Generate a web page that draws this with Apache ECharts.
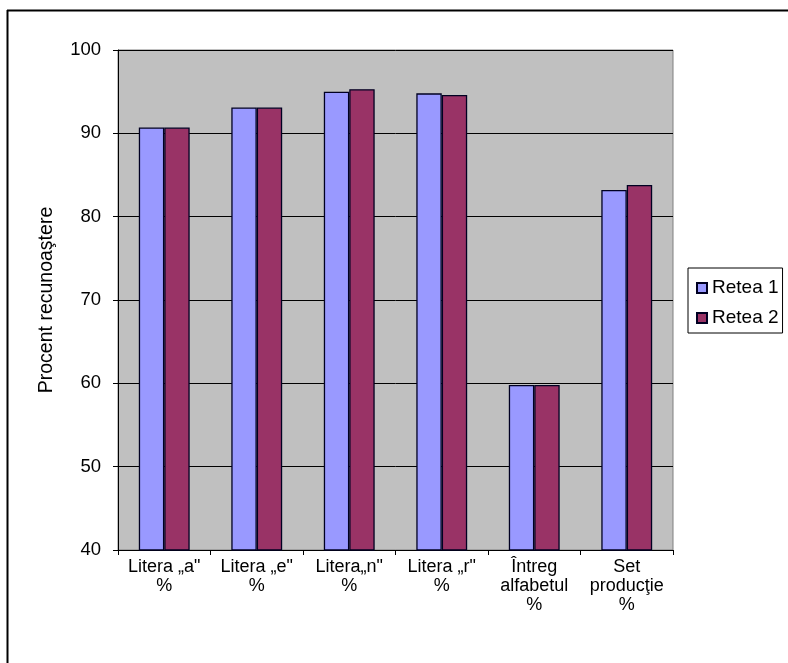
<!DOCTYPE html>
<html>
<head>
<meta charset="utf-8">
<script src="https://cdn.jsdelivr.net/npm/echarts@6/dist/echarts.min.js"></script>
<style>
  html, body { margin: 0; padding: 0; background: #ffffff; }
  #chart { width: 788px; height: 663px; }
</style>
</head>
<body>
<div id="chart"></div>
<script>
// Recognition rates per test set, for the two networks
const categories = [
  'Litera \u201ea"\n%',
  'Litera \u201ee"\n%',
  'Litera\u201en"\n%',
  'Litera \u201er"\n%',
  '\u00centreg\nalfabetul\n%',
  'Set\nproduc\u0163ie\n%'
];
const retea1 = [90.7, 93.1, 95.0, 94.8, 59.8, 83.2];
const retea2 = [90.7, 93.1, 95.3, 94.6, 59.8, 83.8];
const seriesNames = ['Retea 1', 'Retea 2'];
const yTitle = 'Procent recunoa\u015ftere';

const FONT = 'Liberation Sans, Arial, sans-serif';
const chart = echarts.init(document.getElementById('chart'), null, { renderer: 'canvas' });

chart.setOption({
  backgroundColor: '#ffffff',
  animation: false,
  graphic: [
    { type: 'line', shape: { x1: 7, y1: 10.5, x2: 788, y2: 10.5 }, style: { stroke: '#000', lineWidth: 2 } },
    { type: 'line', shape: { x1: 7.5, y1: 10, x2: 7.5, y2: 663 }, style: { stroke: '#000', lineWidth: 2 } }
  ],
  grid: {
    left: 118, right: 115, top: 50, bottom: 113,
    show: true, backgroundColor: '#c0c0c0', borderColor: '#808080', borderWidth: 1
  },
  legend: {
    orient: 'vertical',
    left: 688, top: 268,
    data: seriesNames,
    itemWidth: 10, itemHeight: 10, itemGap: 10,
    padding: [10, 4, 5, 8],
    borderColor: '#000', borderWidth: 1,
    backgroundColor: '#ffffff',
    icon: 'rect',
    textStyle: { fontFamily: FONT, fontSize: 19, color: '#000', lineHeight: 20, padding: [0, 0, 0, 0] }
  },
  xAxis: {
    type: 'category',
    data: categories,
    axisLine: { lineStyle: { color: '#000', width: 1 } },
    axisTick: { show: true, length: 5, lineStyle: { color: '#000' } },
    axisLabel: { fontFamily: FONT, fontSize: 18, color: '#000', lineHeight: 19, margin: 8, interval: 0 },
    splitLine: { show: false }
  },
  yAxis: {
    type: 'value',
    min: 40, max: 100, interval: 10,
    name: yTitle,
    nameLocation: 'middle',
    nameGap: 61,
    nameTextStyle: { fontFamily: FONT, fontSize: 19.5, color: '#000' },
    axisLine: { show: true, lineStyle: { color: '#000', width: 1 } },
    axisTick: { show: true, length: 5, lineStyle: { color: '#000' } },
    axisLabel: { fontFamily: FONT, fontSize: 18.5, color: '#000', margin: 17 },
    splitLine: { show: true, lineStyle: { color: '#000', width: 1 } }
  },
  series: [
    {
      name: seriesNames[0], type: 'bar', data: retea1,
      barGap: '0%', barCategoryGap: '45%',
      itemStyle: { color: '#9999ff', borderColor: '#000022', borderWidth: 1.3 }
    },
    {
      name: seriesNames[1], type: 'bar', data: retea2,
      barGap: '0%', barCategoryGap: '45%',
      itemStyle: { color: '#993366', borderColor: '#000022', borderWidth: 1.3 }
    }
  ]
});
</script>
</body>
</html>
